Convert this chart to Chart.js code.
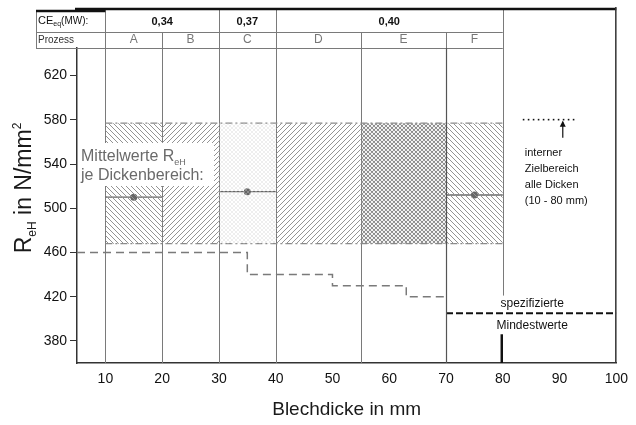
<!DOCTYPE html>
<html>
<head>
<meta charset="utf-8">
<script src="https://cdn.jsdelivr.net/npm/chart.js@4/dist/chart.umd.min.js"></script>
<style>
  html, body { margin: 0; background: #fff; }
</style>
</head>
<body>
<canvas id="chart" width="636" height="425"></canvas>
<script>
// axis ticks
const xTicks = [10, 20, 30, 40, 50, 60, 70, 80, 90, 100];
const yTicks = [380, 420, 460, 500, 540, 580, 620];

// process columns (thickness ranges in mm)
const processes = ['A', 'B', 'C', 'D', 'E', 'F'];
const procFrom = [10, 20, 30, 40, 55, 70];
const procTo = [20, 30, 40, 55, 70, 80];

// CE_eq row
const ceLabels = ['0,34', '0,37', '0,40'];
const ceFrom = [10, 30, 40];
const ceTo = [30, 40, 80];

// internal target band
const bandLow = 468;
const bandHigh = 577;

// mean values per thickness range
const meanFrom = [10, 30, 70];
const meanTo = [20, 40, 80];
const meanAt = [15, 35, 75];
const meanVal = [510, 515, 512];

// specified minimum values (step line)
const minX = [5, 35, 50, 63, 70];
const minY = [460, 440, 430, 420, 420];
const legendMinX = [70, 100];
const legendMinY = 405;

const FONT = "'Liberation Sans', Arial, sans-serif";
Chart.defaults.font.family = FONT;

// fill patterns
function hatch(dir, gap, color) {
  const c = document.createElement('canvas');
  c.width = c.height = gap;
  const g = c.getContext('2d');
  g.strokeStyle = color;
  g.lineWidth = 1;
  g.beginPath();
  if (dir > 0) {
    g.moveTo(-1, gap + 1); g.lineTo(gap + 1, -1);
    g.moveTo(-1, 1); g.lineTo(1, -1);
    g.moveTo(gap - 1, gap + 1); g.lineTo(gap + 1, gap - 1);
  } else {
    g.moveTo(-1, -1); g.lineTo(gap + 1, gap + 1);
    g.moveTo(gap - 1, -1); g.lineTo(gap + 1, 1);
    g.moveTo(-1, gap - 1); g.lineTo(1, gap + 1);
  }
  g.stroke();
  return g.createPattern(c, 'repeat');
}
function dots(size, r, color) {
  const c = document.createElement('canvas');
  c.width = c.height = size;
  const g = c.getContext('2d');
  g.fillStyle = color;
  [[0, 0], [size, 0], [0, size], [size, size], [size / 2, size / 2]].forEach(p => {
    g.beginPath(); g.arc(p[0], p[1], r, 0, Math.PI * 2); g.fill();
  });
  return g.createPattern(c, 'repeat');
}
const pats = {
  back: hatch(-1, 5, '#939393'),
  fwd: hatch(1, 5, '#939393'),
  fine: dots(4, 0.7, '#cfcfcf'),
  dense: dots(4, 1.15, '#8a8a8a')
};
const procFill = ['back', 'fwd', 'fine', 'fwd', 'dense', 'back'];

const datasets = [];
processes.forEach((p, i) => {
  datasets.push({
    label: p,
    data: [{ x: procFrom[i], y: bandHigh }, { x: procTo[i], y: bandHigh }],
    borderWidth: 0,
    pointRadius: 0,
    fill: { value: bandLow },
    backgroundColor: pats[procFill[i]]
  });
});
[bandHigh, bandLow].forEach(v => {
  datasets.push({
    data: [{ x: procFrom[0], y: v }, { x: procTo[procTo.length - 1], y: v }],
    borderColor: '#8a8a8a', borderWidth: 1.3, borderDash: [7, 3, 2, 3],
    pointRadius: 0, fill: false
  });
});
datasets.push({
  data: minX.map((x, i) => ({ x: x, y: minY[i] })),
  stepped: true,
  borderColor: '#7a7a7a', borderWidth: 1.5, borderDash: [8, 5],
  pointRadius: 0, fill: false
});
datasets.push({
  data: legendMinX.map(x => ({ x: x, y: legendMinY })),
  borderColor: '#111', borderWidth: 2, borderDash: [7, 3],
  pointRadius: 0, fill: false
});
meanVal.forEach((m, i) => {
  datasets.push({
    data: [{ x: meanFrom[i], y: m }, { x: meanAt[i], y: m }, { x: meanTo[i], y: m }],
    borderColor: '#666', borderWidth: 1.3,
    pointRadius: [0, 3.5, 0], pointBackgroundColor: '#666', pointBorderWidth: 0,
    fill: false
  });
});

function richText(ctx, parts, x, y) {
  let w = 0;
  parts.forEach(p => { ctx.font = p.f + 'px ' + FONT; w += ctx.measureText(p.t).width; });
  let cx = x;
  parts.forEach(p => {
    ctx.font = p.f + 'px ' + FONT;
    ctx.fillText(p.t, cx, y + (p.dy || 0));
    cx += ctx.measureText(p.t).width;
  });
  return w;
}

const decor = {
  id: 'decor',
  beforeDatasetsDraw(chart) {
    const { ctx, chartArea: a, scales: { x, y } } = chart;
    const row2 = a.top - 16, row1 = a.top - 38;
    ctx.save();
    ctx.strokeStyle = '#7a7a7a';
    ctx.lineWidth = 1;
    // column lines
    procFrom.concat([procTo[procTo.length - 1]]).forEach(v => {
      const px = Math.round(x.getPixelForValue(v)) + 0.5;
      ctx.beginPath();
      if (v === 80) { ctx.moveTo(px, row1 - 2); ctx.lineTo(px, y.getPixelForValue(421)); }
      else { ctx.moveTo(px, row2); ctx.lineTo(px, a.bottom); }
      ctx.stroke();
    });
    // CE dividers
    ceFrom.forEach(v => {
      const px = Math.round(x.getPixelForValue(v)) + 0.5;
      ctx.beginPath(); ctx.moveTo(px, row1); ctx.lineTo(px, row2); ctx.stroke();
    });
    // table rows
    const tl = 36, tr = x.getPixelForValue(80);
    ctx.beginPath();
    ctx.moveTo(tl, row2 + 0.5); ctx.lineTo(tr, row2 + 0.5);
    ctx.moveTo(tl, a.top + 0.5); ctx.lineTo(tr, a.top + 0.5);
    ctx.moveTo(tl + 0.5, row1 + 2); ctx.lineTo(tl + 0.5, a.top);
    ctx.stroke();
    ctx.strokeStyle = '#111';
    ctx.lineWidth = 2.5;
    ctx.beginPath();
    ctx.moveTo(tl, row1 + 1); ctx.lineTo(x.getPixelForValue(10), row1 + 1);
    ctx.moveTo(a.left - 2, row1 - 1); ctx.lineTo(a.right, row1 - 1);
    ctx.stroke();
    // header texts
    ctx.fillStyle = '#111';
    ctx.textBaseline = 'middle';
    ctx.textAlign = 'left';
    richText(ctx, [{ t: 'CE', f: 11 }, { t: 'eq', f: 7, dy: 3 }, { t: '(MW):', f: 10 }], tl + 2, row1 + 11);
    ctx.fillStyle = '#333';
    ctx.font = '10px ' + FONT;
    ctx.fillText('Prozess', tl + 2, row2 + 8);
    ctx.textAlign = 'center';
    ctx.fillStyle = '#111';
    ctx.font = 'bold 11px ' + FONT;
    ceLabels.forEach((t, i) => {
      ctx.fillText(t, (x.getPixelForValue(ceFrom[i]) + x.getPixelForValue(ceTo[i])) / 2, row1 + 12);
    });
    ctx.fillStyle = '#777';
    ctx.font = '12px ' + FONT;
    processes.forEach((t, i) => {
      ctx.fillText(t, (x.getPixelForValue(procFrom[i]) + x.getPixelForValue(procTo[i])) / 2, row2 + 8);
    });
    ctx.restore();
  },
  afterDatasetsDraw(chart) {
    const { ctx, chartArea: a, scales: { x, y } } = chart;
    ctx.save();
    // label box for mean values
    ctx.fillStyle = '#fff';
    ctx.fillRect(a.left + 1, 143, 136, 43);
    ctx.fillStyle = '#6a6a6a';
    ctx.textAlign = 'left';
    ctx.textBaseline = 'alphabetic';
    richText(ctx, [{ t: 'Mittelwerte R', f: 16 }, { t: 'eH', f: 9, dy: 4 }], a.left + 4, 161);
    ctx.font = '16px ' + FONT;
    ctx.fillText('je Dickenbereich:', a.left + 4, 180);

    // right frame
    const x80 = x.getPixelForValue(80), x70 = x.getPixelForValue(70);
    ctx.strokeStyle = '#333';
    ctx.lineWidth = 1.5;
    ctx.beginPath();
    ctx.moveTo(a.right - 0.5, a.top - 41); ctx.lineTo(a.right - 0.5, a.bottom);
    ctx.stroke();
    ctx.strokeStyle = '#555';
    ctx.lineWidth = 1.2;
    ctx.beginPath();
    ctx.moveTo(x70 + 0.5, a.top); ctx.lineTo(x70 + 0.5, a.bottom);
    ctx.stroke();

    // target band annotation
    ctx.fillStyle = '#111';
    const yt = y.getPixelForValue(580);
    for (let px = x80 + 20; px < x80 + 72; px += 5) ctx.fillRect(px, yt - 1, 1.6, 1.6);
    const ax = x80 + 60;
    ctx.strokeStyle = '#111';
    ctx.lineWidth = 1.2;
    ctx.beginPath(); ctx.moveTo(ax, yt + 2); ctx.lineTo(ax, yt + 18); ctx.stroke();
    ctx.beginPath(); ctx.moveTo(ax, yt + 1); ctx.lineTo(ax - 3, yt + 7); ctx.lineTo(ax + 3, yt + 7); ctx.closePath(); ctx.fill();
    ctx.font = '11px ' + FONT;
    ['interner', 'Zielbereich', 'alle Dicken', '(10 - 80 mm)'].forEach((t, i) => {
      ctx.fillText(t, x80 + 22, 156 + i * 16);
    });

    // specified minimum legend
    ctx.textAlign = 'center';
    ctx.font = '12px ' + FONT;
    const cx = (x70 + a.right) / 2 + 1;
    const yl = y.getPixelForValue(legendMinY);
    ctx.fillText('spezifizierte', cx, yl - 6);
    ctx.fillText('Mindestwerte', cx, yl + 16);
    ctx.lineWidth = 2.5;
    ctx.beginPath(); ctx.moveTo(x80 - 1, yl + 21); ctx.lineTo(x80 - 1, a.bottom); ctx.stroke();

    // y axis title
    ctx.translate(23, 188);
    ctx.rotate(-Math.PI / 2);
    ctx.fillStyle = '#1a1a1a';
    ctx.textAlign = 'left';
    const parts = [{ t: 'R', f: 23 }, { t: 'eH', f: 12, dy: 5 }, { t: ' in N/mm', f: 23 }, { t: '2', f: 12, dy: -10 }];
    let w = 0;
    parts.forEach(p => { ctx.font = p.f + 'px ' + FONT; w += ctx.measureText(p.t).width; });
    richText(ctx, parts, -w / 2, 8);
    ctx.restore();
  }
};

new Chart(document.getElementById('chart'), {
  type: 'line',
  data: { datasets: datasets },
  plugins: [decor],
  options: {
    responsive: false,
    animation: false,
    events: [],
    layout: { autoPadding: false, padding: { top: 48, right: 10, left: 0, bottom: 0 } },
    plugins: { legend: { display: false }, tooltip: { enabled: false } },
    scales: {
      x: {
        type: 'linear', min: 5, max: 100,
        afterBuildTicks: s => { s.ticks = xTicks.map(v => ({ value: v })); },
        afterFit: s => { s.height = 62; },
        grid: { display: false, drawTicks: false },
        border: { display: true, color: '#333', width: 1.5 },
        ticks: { color: '#111', font: { size: 14 }, padding: 8 },
        title: { display: true, text: 'Blechdicke in mm', color: '#1a1a1a', font: { size: 19 }, padding: { top: 0, bottom: 4 } }
      },
      y: {
        type: 'linear', min: 360, max: 645,
        afterBuildTicks: s => { s.ticks = yTicks.map(v => ({ value: v })); },
        afterFit: s => { s.width = 77; },
        grid: { drawOnChartArea: false, drawTicks: true, tickLength: 7, color: '#333' },
        border: { display: true, color: '#333', width: 1.5 },
        ticks: { color: '#111', font: { size: 14 }, padding: 3 }
      }
    }
  }
});
</script>
</body>
</html>
